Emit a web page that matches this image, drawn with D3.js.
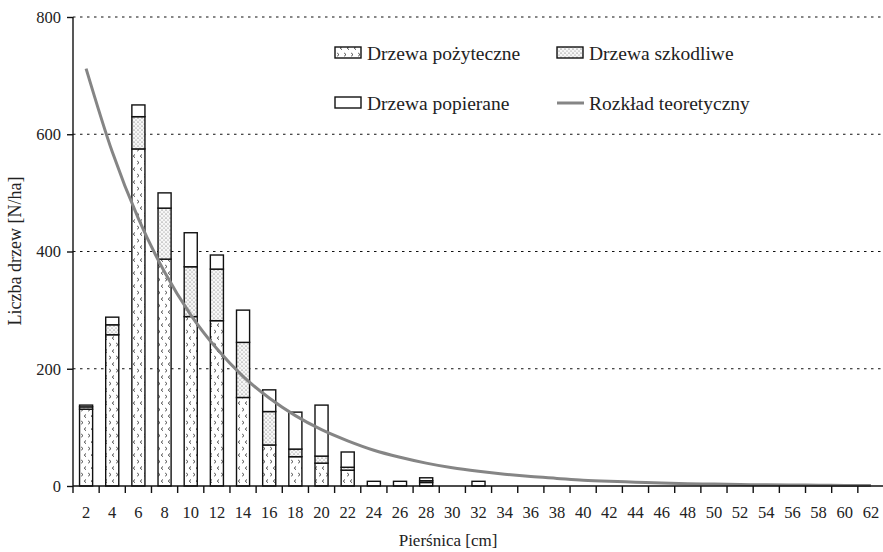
<!DOCTYPE html>
<html>
<head>
<meta charset="utf-8">
<script src="https://cdn.jsdelivr.net/npm/d3@7"></script>
<style>
  body { margin: 0; background: #fff; }
  text { font-family: "Liberation Serif", "DejaVu Serif", serif; fill: #222; }
</style>
</head>
<body>
<div id="chart"></div>
<script>
// data
const diameters = [2,4,6,8,10,12,14,16,18,20,22,24,26,28,30,32,34,36,38,40,42,44,46,48,50,52,54,56,58,60,62];
const useful    = [131,258,575,387,289,282,151,70,50,39,27,0,0,6,0,0];
const harmful   = [4,17,55,87,85,88,94,57,13,12,5,0,0,3,0,0];
const supported = [3,13,20,26,58,24,55,37,63,87,26,8,8,5,0,8];
const theory    = [712,570,456,365,292,234,187,150,120,96,77,61,49,39,31,25,20,16,13,10,8,6.5,5,4,3.3,2.6,2,1.7,1.3,1,0.8];
const yTicks = [0,200,400,600,800];

const w = 883, h = 552;
const margin = {top: 17, right: -1, bottom: 66, left: 73};
const innerW = w - margin.left - margin.right;
const innerH = h - margin.top - margin.bottom;

const svg = d3.select("#chart").append("svg")
    .attr("width", w)
    .attr("height", h);

// fill patterns
const defs = svg.append("defs");
const pUse = defs.append("pattern")
    .attr("id", "useful")
    .attr("patternUnits", "userSpaceOnUse")
    .attr("width", 7).attr("height", 13);
pUse.append("rect").attr("width", 7).attr("height", 13).attr("fill", "#fff");
pUse.append("path").attr("d", "M1.2,1 L3,2.6 L1.2,4.2").attr("fill", "none").attr("stroke", "#444").attr("stroke-width", 1);
pUse.append("path").attr("d", "M6,7.5 L4.2,9.1 L6,10.7").attr("fill", "none").attr("stroke", "#444").attr("stroke-width", 1);

const pHarm = defs.append("pattern")
    .attr("id", "harmful")
    .attr("patternUnits", "userSpaceOnUse")
    .attr("width", 4).attr("height", 4);
pHarm.append("rect").attr("width", 4).attr("height", 4).attr("fill", "#f7f7f7");
pHarm.append("circle").attr("cx", 1).attr("cy", 1).attr("r", 0.6).attr("fill", "#555");
pHarm.append("circle").attr("cx", 3).attr("cy", 3).attr("r", 0.55).attr("fill", "#777");

const g = svg.append("g")
    .attr("transform", `translate(${margin.left}, ${margin.top})`);

const x = d3.scaleBand()
    .domain(diameters)
    .range([0, 811])
    .paddingInner(0.5)
    .paddingOuter(0.25);

const y = d3.scaleLinear()
    .domain([0, 800])
    .range([innerH, 0]);

// grid lines
g.selectAll("line.grid")
  .data(yTicks.filter(d => d > 0))
  .enter().append("line")
    .attr("class", "grid")
    .attr("x1", 0).attr("x2", innerW)
    .attr("y1", d => y(d)).attr("y2", d => y(d))
    .attr("stroke", "#111")
    .attr("stroke-width", 1.2)
    .attr("stroke-dasharray", "2.5,4.5");

// stacked bars
const stackData = diameters.map((d, i) => ({
  d: d,
  useful: useful[i] || 0,
  harmful: harmful[i] || 0,
  supported: supported[i] || 0
}));
const keys = ["useful", "harmful", "supported"];
const fills = {useful: "url(#useful)", harmful: "url(#harmful)", supported: "#fff"};
const series = d3.stack().keys(keys)(stackData);

g.selectAll("g.layer")
  .data(series)
  .enter().append("g")
    .attr("class", "layer")
    .attr("fill", s => fills[s.key])
  .selectAll("rect")
  .data(s => s.filter(p => p[1] - p[0] > 0))
  .enter().append("rect")
    .attr("x", p => x(p.data.d))
    .attr("width", x.bandwidth())
    .attr("y", p => y(p[1]))
    .attr("height", p => y(p[0]) - y(p[1]))
    .attr("stroke", "#111")
    .attr("stroke-width", 1.4);

// theoretical curve
const line = d3.line()
    .x((v, i) => x(diameters[i]) + x.bandwidth() / 2)
    .y(v => y(v))
    .curve(d3.curveMonotoneX);

g.append("path")
    .datum(theory)
    .attr("d", line)
    .attr("fill", "none")
    .attr("stroke", "#858585")
    .attr("stroke-width", 3);

// axes
const yAxis = d3.axisLeft(y).tickValues(yTicks).tickSize(6).tickPadding(6);
g.append("g").call(yAxis)
  .call(a => a.select(".domain").attr("stroke", "#111").attr("stroke-width", 1.4).attr("d", `M0,${innerH}V0`))
  .call(a => a.selectAll(".tick line").attr("stroke", "#111").attr("stroke-width", 1.4))
  .call(a => a.selectAll("text").attr("font-size", 16.5).attr("font-family", "Liberation Serif").attr("fill", "#222"));

const xAxis = d3.axisBottom(x).tickSize(0).tickPadding(20);
const xg = g.append("g").attr("transform", `translate(0, ${innerH})`).call(xAxis);
xg.select(".domain").attr("stroke", "#111").attr("stroke-width", 1.4).attr("d", `M0,0H${innerW}`);
xg.selectAll("text").attr("font-size", 16.5).attr("font-family", "Liberation Serif").attr("fill", "#222");

// tick marks between categories
const step = x.step();
const first = x(diameters[0]) - step * x.paddingInner() / 2;
g.selectAll("line.xtick")
  .data(d3.range(diameters.length + 1))
  .enter().append("line")
    .attr("class", "xtick")
    .attr("x1", i => first + i * step)
    .attr("x2", i => first + i * step)
    .attr("y1", innerH).attr("y2", innerH + 7)
    .attr("stroke", "#111")
    .attr("stroke-width", 1.4);

// axis labels
svg.append("text")
    .attr("text-anchor", "middle")
    .attr("x", 448).attr("y", 546)
    .attr("font-size", 17)
    .text("Pierśnica [cm]");

svg.append("text")
    .attr("text-anchor", "middle")
    .attr("transform", "translate(21, 251) rotate(-90)")
    .attr("font-size", 18)
    .text("Liczba drzew [N/ha]");

// legend
const legendItems = [
  {label: "Drzewa pożyteczne", kind: "useful", lx: 335, ly: 47},
  {label: "Drzewa szkodliwe", kind: "harmful", lx: 557, ly: 47},
  {label: "Drzewa popierane", kind: "supported", lx: 335, ly: 97},
  {label: "Rozkład teoretyczny", kind: "line", lx: 557, ly: 97}
];
const leg = svg.append("g");
legendItems.forEach(it => {
  if (it.kind === "line") {
    leg.append("line")
      .attr("x1", it.lx).attr("x2", it.lx + 27)
      .attr("y1", it.ly + 6).attr("y2", it.ly + 6)
      .attr("stroke", "#858585").attr("stroke-width", 3);
  } else {
    leg.append("rect")
      .attr("x", it.lx).attr("y", it.ly)
      .attr("width", 26).attr("height", 11)
      .attr("fill", fills[it.kind])
      .attr("stroke", "#111").attr("stroke-width", 1.4);
  }
  leg.append("text")
    .attr("x", it.lx + 32).attr("y", it.ly + 13)
    .attr("font-size", 19.5)
    .text(it.label);
});
</script>
</body>
</html>
